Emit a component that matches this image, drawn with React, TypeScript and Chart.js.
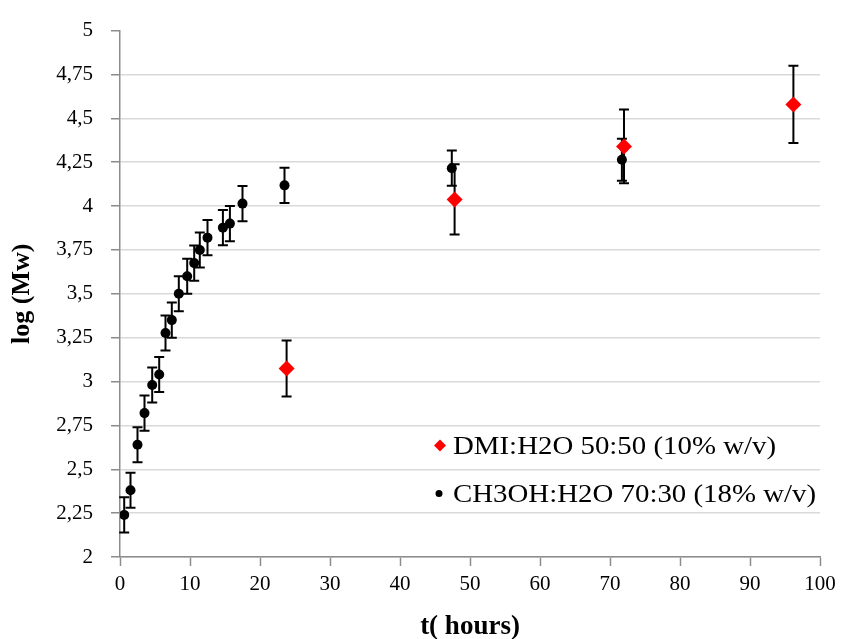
import React, { useEffect, useRef } from "react";
import { Chart, registerables } from "chart.js";

Chart.register(...registerables);

// ---- data ----
const dmiLabel = "DMI:H2O 50:50 (10% w/v)";
const dmiX = [23.8, 47.8, 72.0, 96.2];
const dmiY = [3.074, 4.038, 4.34, 4.579];
const dmiErr = [0.16, 0.2, 0.21, 0.22];

const ch3ohLabel = "CH3OH:H2O 70:30 (18% w/v)";
const ch3ohX = [0.6, 1.5, 2.5, 3.5, 4.6, 5.6, 6.5, 7.4, 8.4, 9.6, 10.6, 11.4, 12.5, 14.7, 15.7, 17.5, 23.5, 47.4, 71.7];
const ch3ohY = [2.24, 2.38, 2.64, 2.82, 2.98, 3.04, 3.277, 3.35, 3.5, 3.6, 3.675, 3.75, 3.82, 3.877, 3.9, 4.014, 4.118, 4.216, 4.264];
const ch3ohErr = [0.1, 0.1, 0.1, 0.1, 0.1, 0.1, 0.1, 0.1, 0.1, 0.1, 0.1, 0.1, 0.1, 0.1, 0.1, 0.1, 0.1, 0.1, 0.12];

const xMin = 0;
const xMax = 100;
const xStep = 10;
const yMin = 2;
const yMax = 5;
const yStep = 0.25;

const xTitle = "t( hours)";
const yTitle = "log (Mw)";

const FONT = "'Liberation Serif', 'Times New Roman', serif";

const errorBarPlugin = {
  id: "errorBars",
  beforeDatasetsDraw(chart: any) {
    const ctx = chart.ctx;
    const ys = chart.scales.y;
    ctx.save();
    ctx.strokeStyle = "#000";
    ctx.lineWidth = 2;
    chart.data.datasets.forEach((ds: any, i: number) => {
      const meta = chart.getDatasetMeta(i);
      meta.data.forEach((pt: any, j: number) => {
        const v = ds.data[j].y;
        const e = ds.errors[j];
        const top = ys.getPixelForValue(v + e);
        const bot = ys.getPixelForValue(v - e);
        const x = pt.x;
        ctx.beginPath();
        ctx.moveTo(x, top);
        ctx.lineTo(x, bot);
        ctx.moveTo(x - 5, top);
        ctx.lineTo(x + 5, top);
        ctx.moveTo(x - 5, bot);
        ctx.lineTo(x + 5, bot);
        ctx.stroke();
      });
    });
    ctx.restore();
  },
};

const innerLegendPlugin = {
  id: "innerLegend",
  afterDraw(chart: any) {
    const ctx = chart.ctx;
    const ca = chart.chartArea;
    const mx = ca.left + 320;
    const tx = ca.left + 333;
    const y1 = ca.bottom - 111.5;
    const y2 = ca.bottom - 63.4;
    ctx.save();
    // red diamond
    ctx.fillStyle = "#ff0000";
    ctx.beginPath();
    ctx.moveTo(mx, y1 - 6);
    ctx.lineTo(mx + 6, y1);
    ctx.lineTo(mx, y1 + 6);
    ctx.lineTo(mx - 6, y1);
    ctx.closePath();
    ctx.fill();
    // black dot
    ctx.fillStyle = "#000";
    ctx.beginPath();
    ctx.arc(mx - 1, y2, 3.5, 0, Math.PI * 2);
    ctx.fill();
    ctx.font = `26px ${FONT}`;
    ctx.textBaseline = "alphabetic";
    ctx.textAlign = "left";
    const drawStretched = (text: string, x: number, y: number) => {
      ctx.save();
      ctx.translate(x, y);
      ctx.scale(1.11, 1);
      ctx.fillText(text, 0, 0);
      ctx.restore();
    };
    drawStretched(dmiLabel, tx, y1 + 8.3);
    drawStretched(ch3ohLabel, tx, y2 + 8.4);
    ctx.restore();
  },
};

const fmt = (v: number) => String(v).replace(".", ",");

export default function App() {
  const ref = useRef<HTMLCanvasElement | null>(null);
  useEffect(() => {
    if (!ref.current) return;
    const chart = new Chart(ref.current, {
      type: "scatter",
      data: {
        datasets: [
          {
            label: dmiLabel,
            data: dmiX.map((x, i) => ({ x, y: dmiY[i] })),
            errors: dmiErr,
            pointStyle: "rectRot",
            pointRadius: 8,
            backgroundColor: "#ff0000",
            borderColor: "#ff0000",
            borderWidth: 0,
          } as any,
          {
            label: ch3ohLabel,
            data: ch3ohX.map((x, i) => ({ x, y: ch3ohY[i] })),
            errors: ch3ohErr,
            pointStyle: "circle",
            pointRadius: 5,
            backgroundColor: "#000",
            borderColor: "#000",
            borderWidth: 0,
          } as any,
        ],
      },
      options: {
        animation: false,
        responsive: false,
        layout: { padding: { left: 0, right: 22, top: 29, bottom: 0 } },
        plugins: {
          legend: { display: false },
          tooltip: { enabled: false },
        },
        scales: {
          x: {
            type: "linear",
            min: xMin,
            max: xMax,
            ticks: {
              stepSize: xStep,
              color: "#000",
              font: { family: FONT, size: 21 },
              padding: 6,
              maxRotation: 0,
            },
            grid: {
              drawOnChartArea: false,
              drawTicks: true,
              tickLength: 9,
              tickColor: "#8c8c8c",
              tickWidth: 1.5,
            },
            border: { color: "#8c8c8c", width: 1.5 },
            title: {
              display: true,
              text: xTitle,
              color: "#000",
              font: { family: FONT, size: 27, weight: "bold" },
              padding: { top: 0, bottom: -4 },
            },
            afterFit(scale: any) {
              scale.height = 82;
            },
          },
          y: {
            type: "linear",
            min: yMin,
            max: yMax,
            ticks: {
              stepSize: yStep,
              color: "#000",
              font: { family: FONT, size: 21 },
              padding: 18,
              callback: (v: any) => fmt(Number(v)),
            },
            grid: {
              color: (c: any) => (c.tick && c.tick.value === yMax ? "rgba(0,0,0,0)" : "#d9d9d9"),
              lineWidth: 1.5,
              drawTicks: true,
              tickLength: 9,
              tickColor: "#8c8c8c",
              tickWidth: 1.5,
            },
            border: { color: "#8c8c8c", width: 1.5 },
            title: {
              display: true,
              text: yTitle,
              color: "#000",
              font: { family: FONT, size: 26, weight: "bold" },
              padding: { top: 7, bottom: 0 },
            },
            afterFit(scale: any) {
              scale.width = 120;
            },
          },
        },
      },
      plugins: [errorBarPlugin, innerLegendPlugin],
    } as any);
    return () => chart.destroy();
  }, []);
  return (
    <div style={{ position: "fixed", left: 0, top: 0, width: 842, height: 639, background: "#fff" }}>
      <canvas ref={ref} width={842} height={639} style={{ width: 842, height: 639, display: "block" }} />
    </div>
  );
}
